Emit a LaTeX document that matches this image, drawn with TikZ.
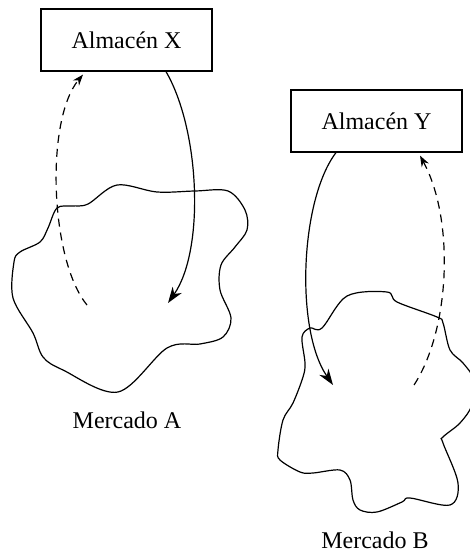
\documentclass[tikz,border=0pt]{standalone}
\usepackage{fontspec}
\setmainfont{Liberation Serif}
\usetikzlibrary{arrows.meta}
\begin{document}
\begin{tikzpicture}[x=0.5pt,y=-0.5pt,
  lbl/.style={font=\fontsize{12}{14}\selectfont},
  store/.style={draw,line width=0.6pt,minimum width=85.5pt,minimum height=31pt,inner sep=0pt,lbl},
  blob/.style={line width=0.6pt},
  flow/.style={line width=0.6pt,-{Stealth[length=8pt,width=5.5pt,inset=2.5pt]}},
  back/.style={line width=0.6pt,dash pattern=on 4pt off 3pt,-{Stealth[length=5.5pt,width=4pt]}}]
\useasboundingbox (0,0) rectangle (470,551);
\clip (0,0) rectangle (470,551);
\node[store] (storeX) at (126.5,40) {Almacén X};
\node[store] (storeY) at (376.5,121) {Almacén Y};
\draw[blob] plot[smooth cycle,tension=0.55] coordinates {(57,208) (72,206) (88,204) (117,185) (157,192) (195,191) (228,191) (245,210) (247,230) (235,247) (221,265) (220,290) (231,318) (223,337) (200,344) (167,348) (118,392) (63,370) (43,357) (33,333) (13,298) (14,262) (20,252) (40,242) (48,228)};
\draw[blob] plot[smooth cycle,tension=0.55] coordinates {(310,328) (322,328) (347,296) (387,292) (397,302) (437,317) (443,323) (450,350) (463,363) (474,380) (472,405) (460,423) (443,437) (443,443) (458,483) (450,505) (410,498) (402,502) (377,512) (360,510) (353,500) (350,480) (340,470) (313,473) (300,472) (280,460) (278,450) (283,420) (293,403) (303,377) (305,363) (302,337)};
\node[lbl] (mA) at (127,420) {Mercado A};
\node[lbl] (mB) at (375,540) {Mercado B};
\coordinate (inA) at (168,303);
\coordinate (backA) at (87,305);
\coordinate (inB) at (333,385);
\coordinate (backB) at (414,385);
\draw[flow] ([xshift=19.75pt]storeX.south) .. controls (200,130) and (205,250) .. (inA);
\draw[back] (backA) .. controls (50,260) and (45,120) .. ([xshift=-21.75pt,yshift=-1.5pt]storeX.south);
\draw[flow] ([xshift=-20.25pt]storeY.south) .. controls (300,200) and (295,330) .. (inB);
\draw[back] (backB) .. controls (450,330) and (455,220) .. ([xshift=21.75pt,yshift=-1.5pt]storeY.south);
\end{tikzpicture}
\end{document}
